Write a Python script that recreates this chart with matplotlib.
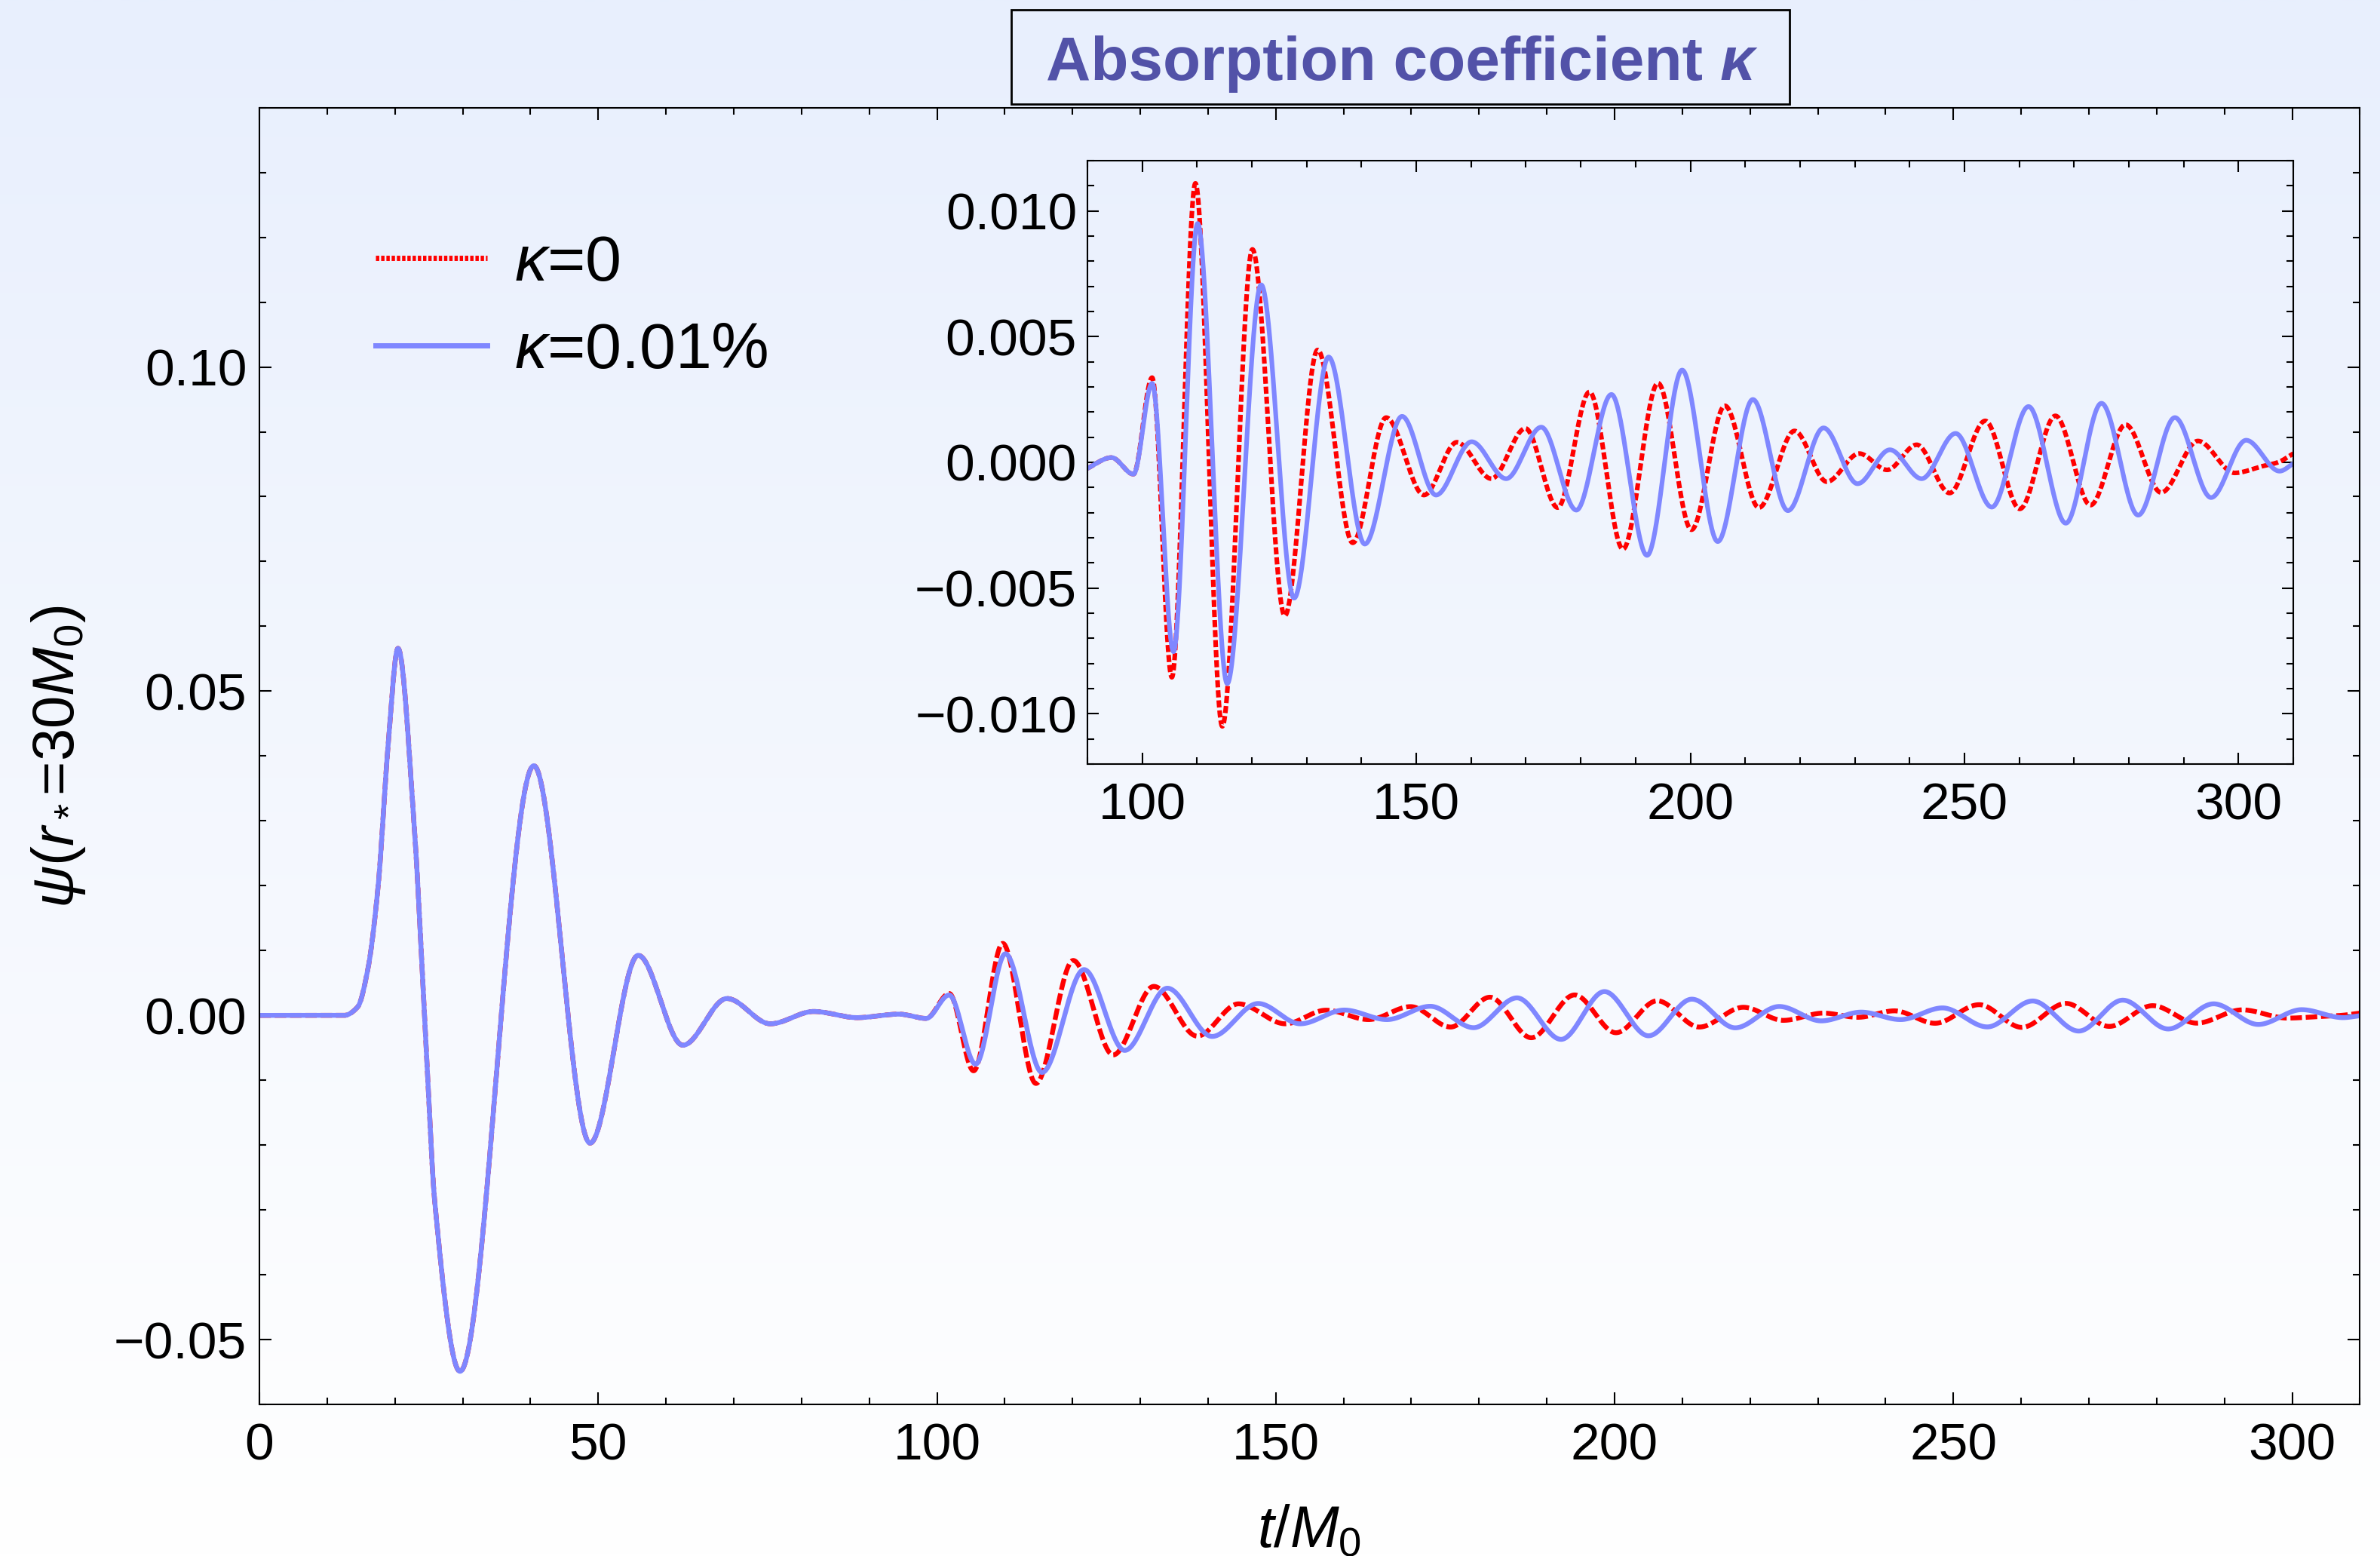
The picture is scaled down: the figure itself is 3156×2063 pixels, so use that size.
import numpy as np
import matplotlib
matplotlib.use("Agg")
import matplotlib.pyplot as plt
from matplotlib.ticker import MultipleLocator, FuncFormatter, FixedLocator
from matplotlib.lines import Line2D
from matplotlib.patches import Rectangle

plt.rcParams['font.family'] = ['Liberation Sans', 'DejaVu Sans']
plt.rcParams['mathtext.fontset'] = 'custom'
plt.rcParams['mathtext.rm'] = 'Liberation Sans'
plt.rcParams['mathtext.it'] = 'Liberation Sans:italic'
plt.rcParams['mathtext.bf'] = 'Liberation Sans:bold'
plt.rcParams['lines.scale_dashes'] = False

# ---------------- data ----------------
# common part of both waveforms (t/M0, psi)
common_t = [0.0, 12.5, 14.5, 16.0, 17.5, 19.0, 20.45, 22.9, 24.4, 25.9, 29.6,
            40.5, 48.8, 55.9, 62.5, 69.0, 75.4,
            81.8, 88.2, 94.4, 98.4]
common_y = [0.0, 0.0, 0.0013, 0.0071, 0.0197, 0.0417, 0.0566, 0.0283, -0.0007,
            -0.029, -0.0549, 0.0385, -0.0197, 0.00926, -0.0046, 0.0026, -0.0013,
            0.0006, -0.00035, 0.00019, -0.00047]

# kappa = 0 (red), t > 100, values in units of 1e-3
red_t = [101.8, 105.4, 109.7, 114.6, 120.1, 126.0, 132.0, 138.4, 144.5, 151.4,
         157.4, 163.7, 169.9, 175.8, 181.6, 187.7, 194.1, 200.2, 206.3, 212.5,
         219.0, 224.9, 230.8, 235.9, 241.3, 247.3, 253.8, 260.1, 266.6, 273.0,
         279.4, 285.9, 292.6, 299.3, 304.4, 307.2, 310.0]
red_y_milli = [3.37, -8.55, 11.1, -10.5, 8.47, -6.1, 4.47, -3.2, 1.78, -1.3,
               0.8, -0.65, 1.35, -1.8, 2.8, -3.45, 3.15, -2.68, 2.25, -1.8,
               1.25, -0.77, 0.35, -0.3, 0.7, -1.22, 1.65, -1.85, 1.85, -1.7,
               1.5, -1.2, 0.85, -0.42, -0.15, 0.0, 0.35]

# kappa = 0.01% (blue), t > 100, values in units of 1e-3
blue_t = [101.8, 105.7, 110.1, 115.5, 121.7, 127.7, 134.0, 140.6, 147.4, 153.6,
          160.1, 166.4, 172.8, 179.2, 185.6, 192.1, 198.5, 205.0, 211.4, 217.8,
          224.3, 230.5, 236.4, 242.2, 248.4, 255.0, 261.7, 268.5, 275.0, 281.7,
          288.4, 295.0, 301.4, 307.5, 310.0]
blue_y_milli = [3.14, -7.53, 9.5, -8.8, 7.06, -5.4, 4.19, -3.25, 1.83, -1.3,
                0.82, -0.65, 1.4, -1.9, 2.7, -3.7, 3.67, -3.15, 2.5, -1.92,
                1.37, -0.85, 0.5, -0.65, 1.15, -1.78, 2.22, -2.42, 2.35, -2.1,
                1.78, -1.4, 0.88, -0.35, -0.05]

labels = [r'$\kappa$=0', r'$\kappa$=0.01%']
title_text = "Absorption coefficient"
xlabel = r'$t/M_0$'
ylabel = r'$\psi$($r_*$=30$M_0$)'


def pchip(xk, yk, xq):
    xk = np.asarray(xk, float)
    yk = np.asarray(yk, float)
    h = np.diff(xk)
    d = np.diff(yk) / h
    n = len(xk)
    m = np.zeros(n)
    for k in range(1, n - 1):
        if d[k - 1] * d[k] > 0:
            w1 = 2 * h[k] + h[k - 1]
            w2 = h[k] + 2 * h[k - 1]
            m[k] = (w1 + w2) / (w1 / d[k - 1] + w2 / d[k])
    m[-1] = d[-1]
    i = np.clip(np.searchsorted(xk, xq, side='right') - 1, 0, n - 2)
    s = (xq - xk[i]) / h[i]
    h00 = 2 * s**3 - 3 * s**2 + 1
    h10 = s**3 - 2 * s**2 + s
    h01 = -2 * s**3 + 3 * s**2
    h11 = s**3 - s**2
    return h00 * yk[i] + h10 * h[i] * m[i] + h01 * yk[i + 1] + h11 * h[i] * m[i + 1]


red_kx = common_t + red_t
red_ky = common_y + [v * 1e-3 for v in red_y_milli]
blue_kx = common_t + blue_t
blue_ky = common_y + [v * 1e-3 for v in blue_y_milli]

tt = np.linspace(0, 310, 8001)
psi_red = pchip(red_kx, red_ky, tt)
psi_blue = pchip(blue_kx, blue_ky, tt)

# ---------------- figure ----------------
W, H, DPI = 3156, 2063, 200
fig = plt.figure(figsize=(W / DPI, H / DPI), dpi=DPI)
fig.patch.set_facecolor('white')

bg = fig.add_axes([0, 0, 1, 1], zorder=-10)
top_c = np.array([232, 239, 253]) / 255.0
bot_c = np.array([255, 255, 255]) / 255.0
f = np.linspace(0, 1, 600)[:, None]
grad = top_c[None, :] * (1 - f) + bot_c[None, :] * f
bg.imshow(grad[:, None, :], aspect='auto', extent=[0, 1, 0, 1], origin='upper',
          interpolation='bilinear')
bg.set_axis_off()

RED = '#FF0000'
BLUE = '#7F87FF'
TC = '#5252A8'

ax = fig.add_axes([344 / W, 1 - 1862 / H, (3129.4 - 344) / W, (1862 - 142.7) / H])
ax.patch.set_alpha(0)
ax.plot(tt, psi_red, color=RED, lw=2.3, dashes=(5.5, 1.8))
ax.plot(tt, psi_blue, color=BLUE, lw=2.3)
ax.set_xlim(0, 310)
ax.set_ylim(-0.06, 0.14)
ax.xaxis.set_major_locator(MultipleLocator(50))
ax.xaxis.set_minor_locator(MultipleLocator(10))
ax.yaxis.set_major_locator(FixedLocator([-0.05, 0.0, 0.05, 0.10]))
ax.yaxis.set_minor_locator(MultipleLocator(0.01))
ax.yaxis.set_major_formatter(FuncFormatter(lambda v, p: ("%.2f" % v).replace('-', '\u2212') if abs(v) > 1e-9 else "0.00"))
ax.xaxis.set_major_formatter(FuncFormatter(lambda v, p: "%d" % round(v)))
ax.tick_params(which='both', direction='in', top=True, right=True,
               width=0.75, color='black', labelsize=25)
ax.tick_params(which='major', length=5.6)
ax.tick_params(which='minor', length=3.2)
ax.tick_params(axis='x', pad=8.6)
ax.tick_params(axis='y', pad=6)
for sp in ax.spines.values():
    sp.set_linewidth(0.75)

leg_handles = [Line2D([], [], color=RED, lw=2.5, dashes=(1.6, 0.9)),
               Line2D([], [], color=BLUE, lw=2.5)]
ax.legend(leg_handles, labels, loc='upper left', bbox_to_anchor=(0.0553, 0.9025),
          frameon=False, fontsize=31, handlelength=1.72, handletextpad=0.42,
          labelspacing=0.42, borderpad=0, borderaxespad=0)

# inset
ins = fig.add_axes([1442 / W, 1 - 1013 / H, (3041 - 1442) / W, (1013 - 213) / H])
ins.patch.set_alpha(0)
ins.plot(tt, psi_red, color=RED, lw=2.2, dashes=(3.4, 1.4))
ins.plot(tt, psi_blue, color=BLUE, lw=2.2)
ins.set_xlim(90, 310)
ins.set_ylim(-0.012, 0.012)
ins.xaxis.set_major_locator(FixedLocator([100, 150, 200, 250, 300]))
ins.xaxis.set_minor_locator(MultipleLocator(10))
ins.yaxis.set_major_locator(MultipleLocator(0.005))
ins.yaxis.set_minor_locator(MultipleLocator(0.001))
ins.yaxis.set_major_formatter(FuncFormatter(lambda v, p: ("%.3f" % v).replace('-', '\u2212') if abs(v) > 1e-9 else "0.000"))
ins.xaxis.set_major_formatter(FuncFormatter(lambda v, p: "%d" % round(v)))
ins.tick_params(which='both', direction='in', top=True, right=True,
                width=0.75, color='black', labelsize=25)
ins.tick_params(which='major', length=5.4)
ins.tick_params(which='minor', length=3.2)
ins.tick_params(axis='x', pad=8.6)
ins.tick_params(axis='y', pad=5)
for sp in ins.spines.values():
    sp.set_linewidth(0.75)

# axis labels
fig.text(1736.5 / W, 1 - 2051.7 / H, xlabel, fontsize=28, ha='center', va='baseline')
fig.text(78 / W, 1 - 1003 / H, ylabel, fontsize=28, ha='center', va='center', rotation=90)

# title box
box = Rectangle((1340.6 / W, 1 - 137.7 / H), (2373 - 1340.6) / W, (137.7 - 12.7) / H,
                transform=fig.transFigure, facecolor='none', edgecolor='black',
                lw=1.0, zorder=5)
fig.add_artist(box)
TFS = 29.5
yb = 1 - 106 / H
t1 = fig.text(0, yb, title_text, fontsize=TFS, fontweight='bold', color=TC,
              ha='left', va='baseline', zorder=6)
t2 = fig.text(0, yb, '\u03ba', fontsize=TFS, fontweight='bold', fontstyle='italic',
              color=TC, ha='left', va='baseline', zorder=6)
r = fig.canvas.get_renderer()
w1 = t1.get_window_extent(r).width
w2 = t2.get_window_extent(r).width
gap = 0.278 * TFS * DPI / 72
x0 = 1856.8 - (w1 + gap + w2) / 2
t1.set_x(x0 / W)
t2.set_x((x0 + w1 + gap) / W)

fig.savefig('out.png', dpi=DPI)
